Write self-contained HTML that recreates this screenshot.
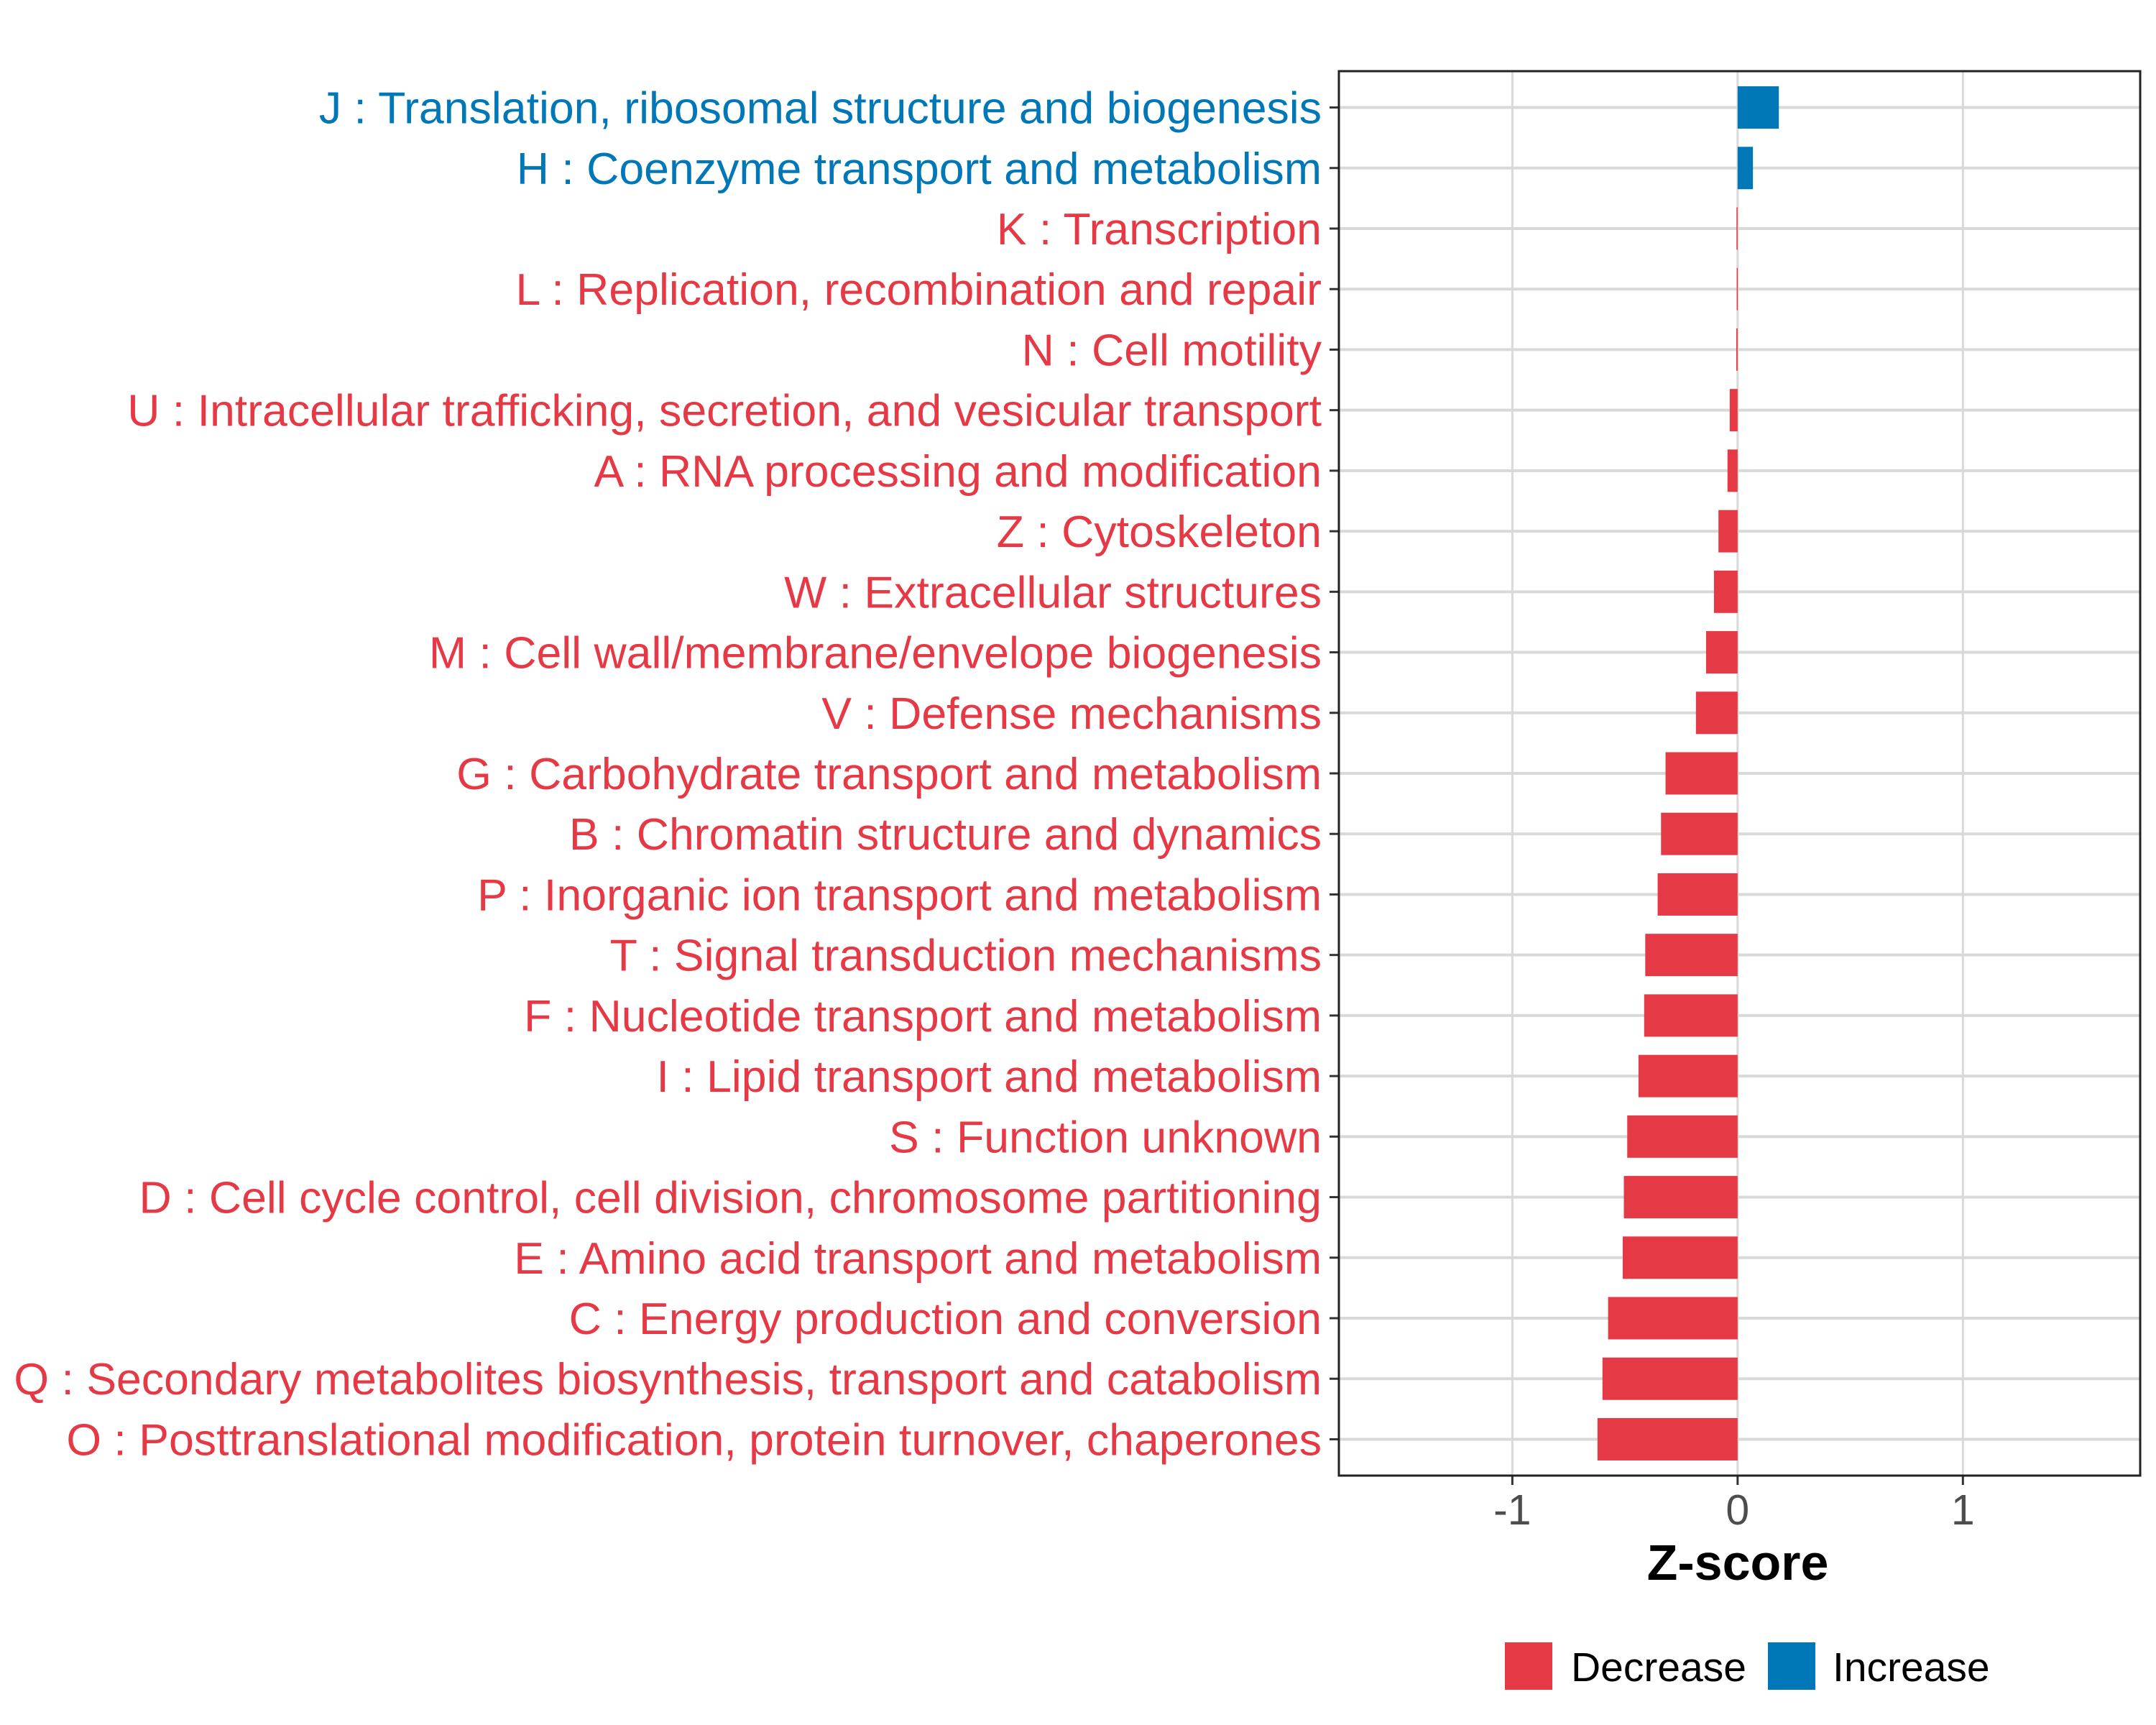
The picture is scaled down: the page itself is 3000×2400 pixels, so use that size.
<!DOCTYPE html>
<html><head><meta charset="utf-8"><style>
html,body{margin:0;padding:0;background:#fff}
svg{display:block;font-family:"Liberation Sans",Arial,sans-serif}
</style></head><body>
<svg id="chart" width="3000" height="2400" viewBox="0 0 3000 2400" xmlns="http://www.w3.org/2000/svg">
<g id="grid"></g>
<g id="bars"></g>
<g id="ylabels"></g>
<g id="xaxis"></g>
<rect x="1863" y="99" width="1115" height="1954" fill="none" stroke="#222" stroke-width="3"/>
<text x="2418" y="2198" font-size="70" font-weight="bold" text-anchor="middle" fill="#000">Z-score</text>
<g>
<rect x="2094" y="2285" width="66" height="66" fill="#e63946"/>
<text x="2186" y="2339" font-size="57" fill="#000">Decrease</text>
<rect x="2460" y="2285" width="66" height="66" fill="#0077b6"/>
<text x="2550" y="2339" font-size="57" fill="#000">Increase</text>
</g>
</svg>
<script>
const categories = ["J : Translation, ribosomal structure and biogenesis","H : Coenzyme transport and metabolism","K : Transcription","L : Replication, recombination and repair","N : Cell motility","U : Intracellular trafficking, secretion, and vesicular transport","A : RNA processing and modification","Z : Cytoskeleton","W : Extracellular structures","M : Cell wall/membrane/envelope biogenesis","V : Defense mechanisms","G : Carbohydrate transport and metabolism","B : Chromatin structure and dynamics","P : Inorganic ion transport and metabolism","T : Signal transduction mechanisms","F : Nucleotide transport and metabolism","I : Lipid transport and metabolism","S : Function unknown","D : Cell cycle control, cell division, chromosome partitioning","E : Amino acid transport and metabolism","C : Energy production and conversion","Q : Secondary metabolites biosynthesis, transport and catabolism","O : Posttranslational modification, protein turnover, chaperones"];
const values = [0.183,0.068,-0.005,-0.004,-0.006,-0.035,-0.045,-0.085,-0.105,-0.14,-0.185,-0.32,-0.34,-0.355,-0.41,-0.415,-0.44,-0.49,-0.505,-0.51,-0.575,-0.6,-0.622];
const xTicks = [-1,0,1];
const xTickLabels = ["-1","0","1"];

const NS="http://www.w3.org/2000/svg";
const PL=1863, PR=2978, PT=99, PB=2053;
const XMIN=-1.77, XMAX=1.787;
function xs(v){return PL+(v-XMIN)/(XMAX-XMIN)*(PR-PL);}
const n=categories.length;
const step=(PB-PT)/(n-1+1.2);
function ys(i){return PT+step*(0.6+i);}
function mk(tag,attrs,parent){const e=document.createElementNS(NS,tag);for(const k in attrs)e.setAttribute(k,attrs[k]);parent.appendChild(e);return e;}
const grid=document.getElementById('grid'),bars=document.getElementById('bars'),yl=document.getElementById('ylabels'),xa=document.getElementById('xaxis');
for(let i=0;i<n;i++){
  const g=mk('line',{x1:PL,x2:PR,y1:ys(i),y2:ys(i),stroke:'#d9d9d9','stroke-width':4},grid);
  
  
}
xTicks.forEach((t,j)=>{
  const g=mk('line',{x1:xs(t),x2:xs(t),y1:PT,y2:PB,stroke:'#d9d9d9','stroke-width':3},grid);
  
  
  const tk=mk('line',{x1:xs(t),x2:xs(t),y1:PB,y2:PB+13,stroke:'#333','stroke-width':3},xa);
  
  
  const tl=mk('text',{x:xs(t),y:2121,'font-size':59,'text-anchor':'middle',fill:'#4d4d4d'},xa);
  tl.textContent=xTickLabels[j];
  
  
});
const bw=step*0.7;
categories.forEach((c,i)=>{
  const v=values[i];
  const col=v>=0?'#0077b6':'#e63946';
  const x0=xs(Math.min(0,v)), x1=xs(Math.max(0,v));
  const r=mk('rect',{x:x0,y:ys(i)-bw/2,width:Math.max(x1-x0,1.5),height:bw,fill:col},bars);
  
  
  const tk=mk('line',{x1:PL-13,x2:PL,y1:ys(i),y2:ys(i),stroke:'#333','stroke-width':3},yl);
  
  
  const t=mk('text',{x:1839,y:ys(i)+22,'font-size':62.6,'text-anchor':'end',fill:col},yl);
  t.textContent=c;
  
  
});
</script>
</body></html>
